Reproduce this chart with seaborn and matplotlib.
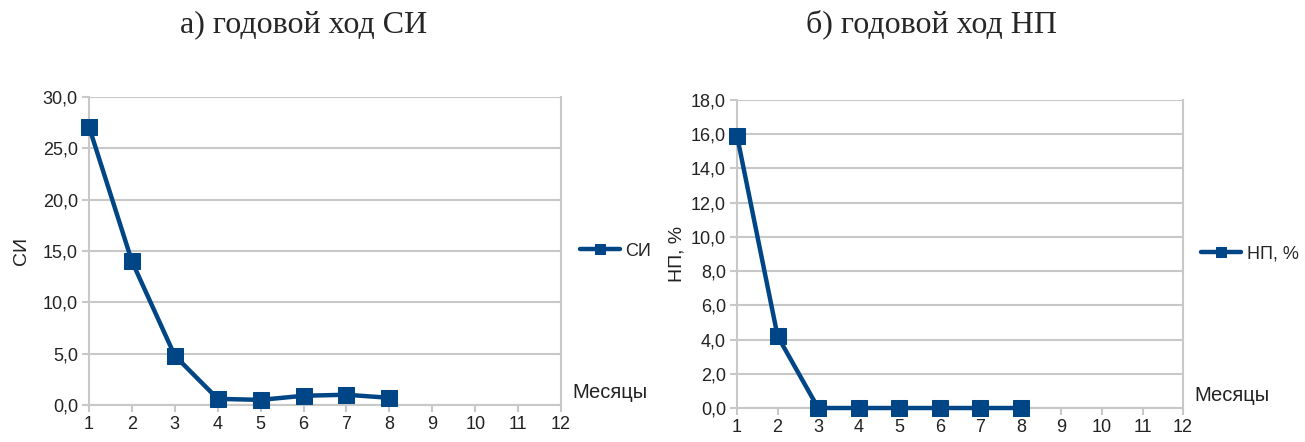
import matplotlib
matplotlib.use("Agg")
import matplotlib.pyplot as plt
import seaborn as sns
import pandas as pd

months = [1, 2, 3, 4, 5, 6, 7, 8]
si_values = [27.1, 14.0, 4.8, 0.6, 0.5, 0.9, 1.0, 0.7]
np_values = [15.9, 4.2, 0.0, 0.0, 0.0, 0.0, 0.0, 0.0]
x_ticks = list(range(1, 13))
titles = ["а) годовой ход СИ", "б) годовой ход НП"]
ylabels = ["СИ", "НП, %"]
xlabel = "Месяцы"

sns.set_style("white")
plt.rcParams['font.family'] = ['Liberation Sans', 'DejaVu Sans']

COLOR = "#004586"
GRID = "#c8c8c8"

fig = plt.figure(figsize=(13.05, 4.42), dpi=100)
ax1 = fig.add_axes([0.0682, 0.0837, 0.3617, 0.6968])
ax2 = fig.add_axes([0.5648, 0.0769, 0.3418, 0.6968])

configs = [
    (ax1, si_values, ylabels[0], (0, 30), [0, 5, 10, 15, 20, 25, 30], titles[0], 0.233, 9),
    (ax2, np_values, ylabels[1], (0, 18), [0, 2, 4, 6, 8, 10, 12, 14, 16, 18], titles[1], 0.714, 4),
]

for ax, vals, ylab, ylim, yt, title, tx, lpad in configs:
    df = pd.DataFrame({"m": months, "v": vals})
    sns.lineplot(data=df, x="m", y="v", ax=ax, color=COLOR, linewidth=3.2,
                 marker="s", markersize=11, markeredgecolor=COLOR,
                 label=ylab, clip_on=False, zorder=10)
    ax.set_xlim(1, 12)
    ax.set_ylim(*ylim)
    ax.set_xticks(x_ticks)
    ax.set_yticks(yt)
    ax.set_yticklabels([f"{t:.1f}".replace(".", ",") for t in yt])
    ax.yaxis.grid(True, color=GRID, linewidth=1.5)
    ax.xaxis.grid(False)
    ax.set_axisbelow(True)
    for s in ["left", "bottom", "right"]:
        ax.spines[s].set_color(GRID)
        ax.spines[s].set_linewidth(1.5)
        ax.spines[s].set_visible(True)
        ax.spines[s].set_zorder(0.5)
    ax.spines["top"].set_visible(False)
    ax.tick_params(axis="both", which="both", length=5, width=1.5, color=GRID,
                   labelsize=13, labelcolor="#222222", direction="out")
    ax.tick_params(axis="x", bottom=True, pad=3)
    ax.tick_params(axis="y", left=True, pad=3)
    ax.set_xlabel("")
    ax.set_ylabel(ylab, fontsize=14, color="#222222", labelpad=lpad)
    ax.text(1.025, 0.01, xlabel, transform=ax.transAxes, fontsize=14.5,
            color="#222222", ha="left", va="bottom")
    leg = ax.legend(loc="center left", bbox_to_anchor=(1.025, 0.5), frameon=False,
                    fontsize=13, handlelength=2.2, handletextpad=0.3, borderaxespad=0)
    for h in leg.legend_handles:
        h.set_markersize(7)
    fig.text(tx, 0.945, title, ha="center", va="center", fontsize=23,
             family=["Liberation Serif", "DejaVu Serif"])

fig.savefig("out.png", dpi=100)
